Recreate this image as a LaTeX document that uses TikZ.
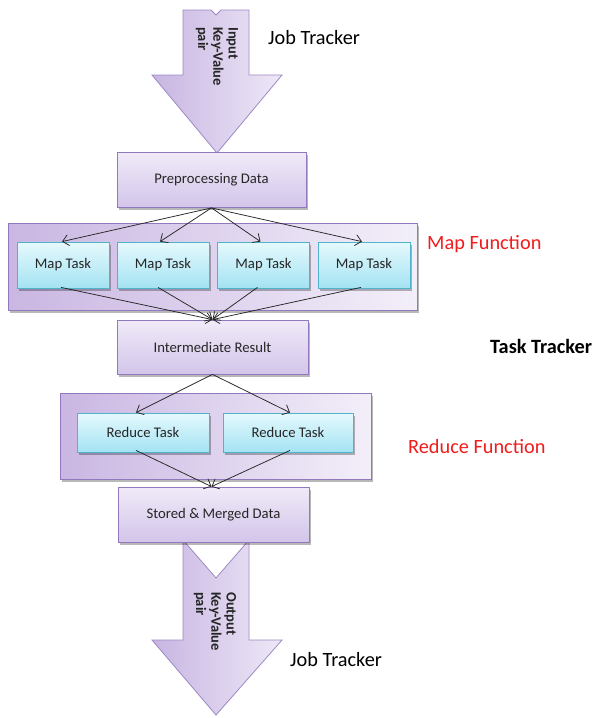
\documentclass[tikz,border=0pt]{standalone}
\usepackage{fontspec}
\setmainfont{Carlito}
\usetikzlibrary{arrows.meta,shadows,calc}
\definecolor{pborder}{HTML}{9079BD}
\definecolor{ptop}{HTML}{F0EAF8}
\definecolor{pbot}{HTML}{D3C5EA}
\definecolor{cleft}{HTML}{C9B6E2}
\definecolor{cright}{HTML}{F3EFF9}
\definecolor{ctop}{HTML}{E6F9FD}
\definecolor{cbot}{HTML}{A4E3F3}
\definecolor{cborder}{HTML}{4FB3CC}
\definecolor{aleft}{HTML}{C7B5E1}
\definecolor{aright}{HTML}{EEE8F7}
\definecolor{aborder}{HTML}{9E89C6}
\definecolor{txt}{HTML}{262626}
\definecolor{redtxt}{HTML}{F21C1C}
\tikzset{
  shade/.style={drop shadow={shadow xshift=1.5pt,shadow yshift=-2.5pt,fill=black,opacity=0.28}},
  pbox/.style={rectangle,draw=pborder,line width=0.8pt,top color=ptop,bottom color=pbot,
    shade,font=\fontsize{14.7}{16}\selectfont,text=txt,inner sep=0pt},
  cbox/.style={rectangle,draw=cborder,line width=0.8pt,top color=ctop,bottom color=cbot,
    shade,font=\fontsize{14.7}{16}\selectfont,text=txt,inner sep=0pt},
  contbox/.style={rectangle,draw=pborder,line width=0.8pt,left color=cleft,right color=cright,
    shade,inner sep=0pt},
  bigarrow/.style={draw=aborder,line width=0.8pt,left color=aleft,right color=aright},
  arrtext/.style={rotate=-90,anchor=west,align=left,inner sep=0pt,
    font=\fontsize{14.5}{15.2}\selectfont\bfseries,text=txt},
  flow/.style={draw=black!85,line width=0.75pt,-{Straight Barb[length=6pt,width=11pt]}},
  label/.style={inner sep=0pt,anchor=west,font=\fontsize{20.3}{22}\selectfont},
}
\begin{document}
\begin{tikzpicture}[x=1pt,y=-1pt]
\useasboundingbox[fill=white] (0,0) rectangle (596,718);
% input arrow
\path[bigarrow] (183,10) -- (211,10) -- (216,15) -- (221,10) -- (249,10) -- (249,75)
  -- (282,75) -- (217,153) -- (152,75) -- (183,75) -- cycle;
\node[arrtext] (intext) at (217,27) {Input\\Key-Value\\pair};
% output arrow
\path[bigarrow] (183,540) -- (216,578) -- (249,540) -- (249,640) -- (282,640)
  -- (216,715) -- (152,640) -- (183,640) -- cycle;
\node[arrtext] (outtext) at (215,592) {Output\\Key-Value\\pair};
% boxes
\node[pbox,minimum width=189pt,minimum height=55pt] (pre) at (211.5,180) {Preprocessing Data};
\node[contbox,minimum width=409pt,minimum height=87pt] (mapf) at (212.5,266.5) {};
\node[cbox,minimum width=92pt,minimum height=46pt] (m1) at (63,265) {Map Task};
\node[cbox,minimum width=92pt,minimum height=46pt] (m2) at (163,265) {Map Task};
\node[cbox,minimum width=92pt,minimum height=46pt] (m3) at (263.5,265) {Map Task};
\node[cbox,minimum width=92pt,minimum height=46pt] (m4) at (364,265) {Map Task};
\node[pbox,minimum width=191pt,minimum height=54pt] (inter) at (212.5,347) {Intermediate Result};
\node[contbox,minimum width=311pt,minimum height=86pt] (redf) at (215.5,436) {};
\node[cbox,minimum width=132pt,minimum height=39pt] (r1) at (143,432.5) {Reduce Task};
\node[cbox,minimum width=130pt,minimum height=39pt] (r2) at (288,432.5) {Reduce Task};
\node[pbox,minimum width=191pt,minimum height=55pt] (stored) at (213.5,514.5) {Stored \& Merged Data};
% connectors
\draw[flow] (pre.south) -- ([xshift=-1pt]m1.north);
\draw[flow] (pre.south) -- ([xshift=-3pt]m2.north);
\draw[flow] (pre.south) -- ([xshift=-3pt]m3.north);
\draw[flow] (pre.south) -- ([xshift=-2pt]m4.north);
\draw[flow] ([xshift=-2pt,yshift=1pt]m1.south) -- (inter.north);
\draw[flow] ([xshift=-5pt,yshift=1pt]m2.south) -- (inter.north);
\draw[flow] ([xshift=-6pt,yshift=1pt]m3.south) -- (inter.north);
\draw[flow] ([xshift=-3pt,yshift=1pt]m4.south) -- (inter.north);
\draw[flow] (inter.south) -- ([xshift=-7pt]r1.north);
\draw[flow] (inter.south) -- ([xshift=2pt]r2.north);
\draw[flow] ([xshift=-7pt,yshift=2pt]r1.south) -- ([xshift=-2pt]stored.north);
\draw[flow] ([xshift=2pt,yshift=2pt]r2.south) -- ([xshift=-2pt]stored.north);
% labels
\node[label] (jt1) at (268,38) {Job Tracker};
\node[label,text=redtxt] (mapl) at (427,244) {Map Function};
\node[label,font=\fontsize{20.3}{22}\selectfont\bfseries] (tt) at (490,346) {Task Tracker};
\node[label,text=redtxt] (redl) at (408,447) {Reduce Function};
\node[label] (jt2) at (290,660) {Job Tracker};
\end{tikzpicture}
\end{document}
